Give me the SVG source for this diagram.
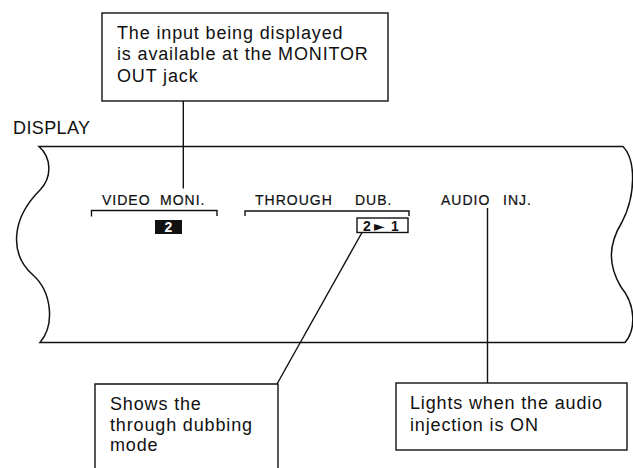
<svg xmlns="http://www.w3.org/2000/svg" width="633" height="468" viewBox="0 0 633 468">
<style>
.box{fill:#fff;stroke:#111;stroke-width:1.4}
.ln{fill:none;stroke:#111;stroke-width:1.4}
.band{fill:none;stroke:#111;stroke-width:1.5}
.t{font-family:"Liberation Sans",Arial,sans-serif;font-size:18px;fill:#111;letter-spacing:0.85px}
.lbl{font-family:"Liberation Sans",Arial,sans-serif;font-size:14px;fill:#111;stroke:#111;stroke-width:0.22;letter-spacing:1px}
.dig{font-family:"Liberation Sans",Arial,sans-serif;font-size:14px;font-weight:bold}
</style>
<rect width="633" height="468" fill="#fff"/>
<g id="display">
<text class="t" x="13" y="134" style="letter-spacing:0.4px">DISPLAY</text>
<path class="band" d="M39,146.5 H623 C636,160 636,195 622,222 C608,245 608,265 621,287 C636,305 636,330 625,342.5 H40 C55,325 52,292 33,275 C10,255 10,220 40,190 C52,178 52,158 39,146.5 Z"/>
</g>
<g id="connectors">
<line class="ln" x1="183.3" y1="101" x2="183.3" y2="188.5"/>
<line class="ln" x1="362" y1="232.5" x2="277" y2="384"/>
<line class="ln" x1="487.5" y1="208" x2="487.5" y2="383"/>
</g>
<g id="monitor-note">
<rect class="box" x="102" y="13" width="286" height="88"/>
<text class="t"><tspan x="117" y="38.5">The input being displayed</tspan><tspan x="117" y="60">is available at the MONITOR</tspan><tspan x="117" y="81.5">OUT jack</tspan></text>
</g>
<g id="video-moni">
<text class="lbl" x="102" y="205">VIDEO <tspan x="160">MONI.</tspan></text>
<path class="ln" d="M91.5,216.5 V210.5 H217 V216"/>
<rect x="155" y="220" width="27" height="14" fill="#111"/>
<text class="dig" x="168.5" y="232" text-anchor="middle" fill="#fff">2</text>
</g>
<g id="through-dub">
<text class="lbl" x="255" y="205">THROUGH <tspan x="355">DUB.</tspan></text>
<path class="ln" d="M245,216 V211 H409 V216"/>
<rect class="box" x="357" y="218" width="51" height="14.5"/>
<text class="dig" y="230.5" fill="#111"><tspan x="363">2</tspan><tspan x="374" style="font-family:'DejaVu Sans',sans-serif;font-size:14px">►</tspan><tspan x="391">1</tspan></text>
</g>
<g id="audio-inj">
<text class="lbl" x="441" y="205">AUDIO <tspan x="503">INJ.</tspan></text>
</g>
<g id="dub-note">
<path class="box" d="M95,470 V384 H278 V470"/>
<text class="t"><tspan x="110" y="410">Shows the</tspan><tspan x="110" y="430.5">through dubbing</tspan><tspan x="110" y="451">mode</tspan></text>
</g>
<g id="audio-note">
<rect class="box" x="396" y="383" width="231" height="67"/>
<text class="t"><tspan x="410" y="409">Lights when the audio</tspan><tspan x="410" y="431">injection is ON</tspan></text>
</g>
</svg>
